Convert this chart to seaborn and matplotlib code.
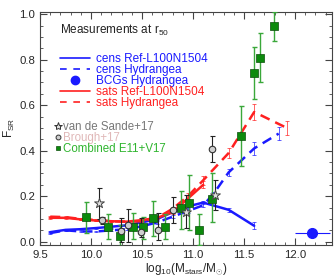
import seaborn as sns
import pandas as pd
import matplotlib.pyplot as plt
from matplotlib.ticker import MultipleLocator
from matplotlib.lines import Line2D
import numpy as np

# --- data ---
cens_ref_x = [9.6, 9.75, 9.9, 10.05, 10.2, 10.35, 10.5, 10.65, 10.8, 10.95, 11.1, 11.35, 11.6]
cens_ref_y = [0.042, 0.052, 0.055, 0.060, 0.066, 0.072, 0.085, 0.100, 0.130, 0.155, 0.172, 0.140, 0.070]
cens_ref_e = [0.004, 0.004, 0.004, 0.004, 0.004, 0.004, 0.005, 0.005, 0.006, 0.007, 0.008, 0.008, 0.015]

cens_hyd_x = [9.6, 9.75, 9.9, 10.05, 10.2, 10.35, 10.5, 10.65, 10.8, 10.95, 11.1, 11.2, 11.35, 11.6, 11.84]
cens_hyd_y = [0.038, 0.050, 0.045, 0.045, 0.050, 0.055, 0.068, 0.085, 0.110, 0.135, 0.160, 0.210, 0.305, 0.410, 0.475]
cens_hyd_e = [0.004, 0.004, 0.004, 0.004, 0.004, 0.004, 0.005, 0.005, 0.006, 0.007, 0.008, 0.010, 0.015, 0.030, 0.027]

sats_ref_x = [9.6, 9.75, 9.9, 10.05, 10.2, 10.35, 10.5, 10.65, 10.8, 10.95, 11.1]
sats_ref_y = [0.105, 0.105, 0.098, 0.093, 0.090, 0.088, 0.095, 0.105, 0.130, 0.190, 0.250]
sats_ref_e = [0.004, 0.004, 0.004, 0.004, 0.004, 0.004, 0.005, 0.006, 0.008, 0.010, 0.015]

sats_hyd_x = [9.6, 9.75, 9.9, 10.05, 10.2, 10.35, 10.5, 10.65, 10.8, 10.95, 11.1, 11.35, 11.6, 11.92]
sats_hyd_y = [0.110, 0.108, 0.100, 0.095, 0.090, 0.088, 0.090, 0.105, 0.145, 0.200, 0.270, 0.390, 0.570, 0.500]
sats_hyd_e = [0.004, 0.004, 0.004, 0.004, 0.004, 0.004, 0.005, 0.006, 0.008, 0.012, 0.020, 0.020, 0.035, 0.030]

bcg_x, bcg_y, bcg_xerr = [12.17], [0.038], [0.17]

vds_x = [10.08, 10.93, 11.22]
vds_y = [0.169, 0.132, 0.205]
vds_lo = [0.100, 0.059, 0.140]
vds_hi = [0.235, 0.205, 0.270]

bro_x = [10.11, 10.29, 10.36, 10.49, 10.66, 10.80, 11.19]
bro_y = [0.095, 0.048, 0.073, 0.044, 0.051, 0.139, 0.407]
bro_lo = [0.080, 0.000, 0.000, 0.020, 0.007, 0.081, 0.352]
bro_hi = [0.110, 0.104, 0.142, 0.104, 0.124, 0.197, 0.465]

comb_x = [9.95, 10.17, 10.28, 10.41, 10.51, 10.61, 10.73, 10.88, 10.96, 11.06, 11.19, 11.47, 11.60, 11.66, 11.79]
comb_y = [0.108, 0.064, 0.023, 0.064, 0.064, 0.104, 0.064, 0.148, 0.170, 0.053, 0.189, 0.465, 0.740, 0.808, 0.947]
comb_lo = [0.040, 0.010, -0.02, 0.010, 0.010, 0.023, 0.010, 0.056, 0.053, -0.015, 0.085, 0.333, 0.625, 0.703, 0.880]
comb_hi = [0.174, 0.123, 0.075, 0.126, 0.110, 0.177, 0.120, 0.225, 0.294, 0.122, 0.300, 0.596, 0.857, 0.915, 1.010]

sns.set_style('ticks')
plt.rcParams['font.family'] = ['Liberation Sans', 'DejaVu Sans']
plt.rcParams['mathtext.fontset'] = 'custom'
plt.rcParams['mathtext.rm'] = 'Liberation Sans'
plt.rcParams['mathtext.it'] = 'Liberation Sans'
plt.rcParams['font.size'] = 8

fig = plt.figure(figsize=(3.34, 2.77), dpi=100)
ax = fig.add_axes([0.12, 0.1155, 0.874, 0.8425])

blue = '#1a1aff'
red = '#ff2020'

# simulation curves
sims = [
    (cens_ref_x, cens_ref_y, cens_ref_e, blue, '-'),
    (cens_hyd_x, cens_hyd_y, cens_hyd_e, blue, (0, (4, 2.5))),
    (sats_ref_x, sats_ref_y, sats_ref_e, red, '-'),
    (sats_hyd_x, sats_hyd_y, sats_hyd_e, red, (0, (4, 2.5))),
]
for xs, ys, es, col, ls in sims:
    df = pd.DataFrame({'x': xs, 'y': ys})
    sns.lineplot(data=df, x='x', y='y', ax=ax, color=col, lw=1.8, linestyle=ls, zorder=3)
    ax.errorbar(xs, ys, yerr=es, fmt='none', ecolor=col, elinewidth=0.7,
                capsize=1.5, capthick=0.7, alpha=0.7, zorder=3)

# BCG point
ax.errorbar(bcg_x, bcg_y, xerr=bcg_xerr, fmt='o', color=blue, ms=7,
            elinewidth=0.8, capsize=0, zorder=4)

# observations
def yerr(y, lo, hi):
    y = np.array(y)
    return [y - np.array(lo), np.array(hi) - y]

ax.errorbar(comb_x, comb_y, yerr=yerr(comb_y, comb_lo, comb_hi), fmt='none',
            ecolor='#3aa83a', elinewidth=1.0, capsize=1.8, capthick=1.0, zorder=4)
ax.errorbar(bro_x, bro_y, yerr=yerr(bro_y, bro_lo, bro_hi), fmt='none',
            ecolor='#222222', elinewidth=0.8, capsize=1.8, capthick=0.8, zorder=4)
ax.errorbar(vds_x, vds_y, yerr=yerr(vds_y, vds_lo, vds_hi), fmt='none',
            ecolor='#222222', elinewidth=0.8, capsize=1.8, capthick=0.8, zorder=4)

sns.scatterplot(x=comb_x, y=comb_y, ax=ax, marker='s', s=30, color='#0c8a0c',
                edgecolor='#0b4d0b', linewidth=0.5, zorder=5)
sns.scatterplot(x=bro_x, y=bro_y, ax=ax, marker='o', s=22, color='#cfcfcf',
                edgecolor='#333333', linewidth=0.8, zorder=5)
sns.scatterplot(x=vds_x, y=vds_y, ax=ax, marker='*', s=55, color='#dddddd',
                edgecolor='#444444', linewidth=0.7, zorder=5)

ax.set_xlim(9.5, 12.363)
ax.set_ylim(-0.0145, 1.011)
ax.xaxis.set_major_locator(MultipleLocator(0.5))
ax.xaxis.set_minor_locator(MultipleLocator(0.1))
ax.yaxis.set_major_locator(MultipleLocator(0.2))
ax.yaxis.set_minor_locator(MultipleLocator(0.05))
ax.xaxis.set_major_formatter(plt.FormatStrFormatter('%.1f'))
ax.yaxis.set_major_formatter(plt.FormatStrFormatter('%.1f'))
ax.tick_params(which='both', direction='in', top=True, right=True, color='#444444')
ax.tick_params(which='major', length=5, width=0.8, labelsize=8.2, pad=3.5)
ax.tick_params(which='minor', length=2.5, width=0.6)
for sp in ax.spines.values():
    sp.set_linewidth(0.8)
    sp.set_color('#444444')

ax.set_xlabel(r'log$_{10}$(M$_{\rm stars}$/M$_{\odot}$)', fontsize=8.5, labelpad=1)
ax.set_ylabel(r'F$_{\rm SR}$', fontsize=8.5, labelpad=2)

ax.text(0.068, 0.919, r'Measurements at r$_{50}$', transform=ax.transAxes,
        fontsize=8.5, color='#222222', va='center')

# legends
h1 = [Line2D([], [], color=blue, lw=1.2),
      Line2D([], [], color=blue, lw=1.2, linestyle=(0, (4, 4))),
      Line2D([], [], color=blue, marker='o', ms=6, linestyle='none'),
      Line2D([], [], color=red, lw=1.2),
      Line2D([], [], color=red, lw=1.2, linestyle=(0, (4, 4)))]
l1 = ['cens Ref-L100N1504', 'cens Hydrangea', 'BCGs Hydrangea',
      'sats Ref-L100N1504', 'sats Hydrangea']
leg1 = ax.legend(h1, l1, loc='upper left', bbox_to_anchor=(0.068, 0.821),
                 frameon=False, fontsize=8.5, handlelength=2.55, handletextpad=0.5,
                 labelspacing=-0.1, borderpad=0, borderaxespad=0,
                 labelcolor=[blue, blue, blue, red, red])
ax.add_artist(leg1)

h2 = [Line2D([], [], color='#dddddd', marker='*', ms=6, mec='#333333', mew=0.7, linestyle='none'),
      Line2D([], [], color='#cfcfcf', marker='o', ms=3.5, mec='#333333', mew=0.7, linestyle='none'),
      Line2D([], [], color='#0c8a0c', marker='s', ms=3.5, mec='#0b4d0b', mew=0.5, linestyle='none')]
l2 = ['van de Sande+17', 'Brough+17', 'Combined E11+V17']
ax.legend(h2, l2, loc='upper left', bbox_to_anchor=(0.05, 0.531),
          frameon=False, fontsize=8.3, handlelength=0.6, handletextpad=0.15,
          labelspacing=-0.1, borderpad=0, borderaxespad=0,
          labelcolor=['#777777', '#e0b8b8', '#2fb52f'])

fig.savefig('out.png', dpi=100)
